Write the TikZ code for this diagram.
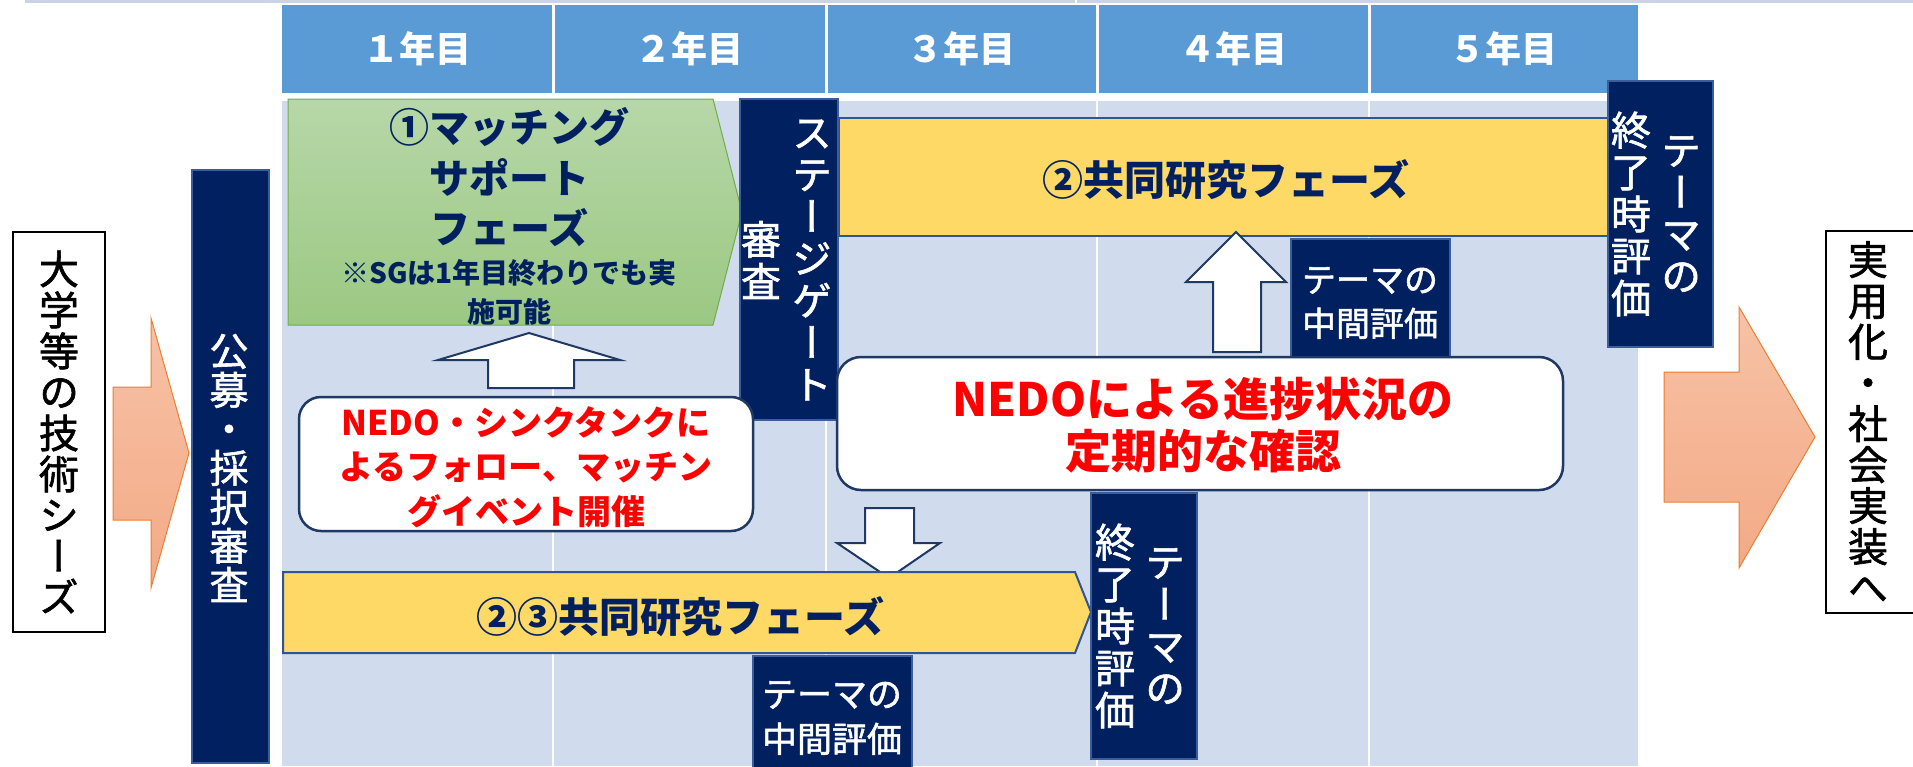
\documentclass[tikz,border=0pt]{standalone}
\usepackage{fontspec}
\newfontfamily\jp{Noto Sans CJK JP}
\newfontfamily\jpm[FakeBold=1.5]{Noto Sans CJK JP}
\newfontfamily\jpv[RawFeature=+vert,FakeBold=1.5]{Noto Sans CJK JP}
\definecolor{hdr}{HTML}{5B9BD5}
\definecolor{bodybg}{HTML}{D0DCEE}
\definecolor{navy}{HTML}{002060}
\definecolor{navyedge}{HTML}{3A5E9C}
\definecolor{outl}{HTML}{1F3864}
\definecolor{yel}{HTML}{FFD966}
\definecolor{yeledge}{HTML}{2F5597}
\definecolor{grnT}{HTML}{B7D7A8}
\definecolor{grnB}{HTML}{9BC882}
\definecolor{grnE}{HTML}{70AD47}
\definecolor{orT}{HTML}{F7C2A6}
\definecolor{orB}{HTML}{F3AA86}
\definecolor{orE}{HTML}{ED7D31}
\definecolor{topgray}{HTML}{CCD3E5}
\definecolor{redtxt}{HTML}{FF0000}
\begin{document}
\begin{tikzpicture}[x=1pt,y=-1pt,
  navybar/.style={fill=navy, draw=navyedge, line width=1.5pt},
  yelbar/.style={fill=yel, draw=yeledge, line width=2pt},
  blockarrow/.style={fill=white, draw=outl, line width=2pt, line join=miter},
  orarrow/.style={top color=orT, bottom color=orB, draw=orE, line width=1pt},
  roundbox/.style={fill=white, draw=outl, line width=2.5pt, rounded corners=24pt},
  vtxt/.style={text=white, font=\jpv\fontsize{40}{42}\selectfont, align=center, inner sep=0pt},
  vblack/.style={text=black, font=\jpv\fontsize{40}{41}\selectfont, align=center, inner sep=0pt},
  hdrtxt/.style={text=white, font=\jp\bfseries\fontsize{36}{40}\selectfont, inner sep=0pt},
  bigtxt/.style={text=navy, font=\jp\bfseries\fontsize{40}{48}\selectfont, inner sep=0pt},
  smalltxt/.style={text=navy, font=\jp\bfseries\fontsize{28}{34}\selectfont, inner sep=0pt},
  phasetxt/.style={text=navy, font=\jp\bfseries\fontsize{41}{48}\selectfont, inner sep=0pt},
  evaltxt/.style={text=white, align=center, inner sep=0pt},
  redtext/.style={text=redtxt, align=center, inner sep=0pt}]
\useasboundingbox (0,0) rectangle (1913,766);
% top gray rule
\fill[topgray] (25,0) rectangle (1913,3);
\fill[white] (1075,0) rectangle (1077,4);
% body background with column lines
\fill[bodybg] (282,101) rectangle (1638,766);
\foreach \x in {553,826,1097,1369} \fill[white] (\x-1,101) rectangle (\x+1,766);
% header
\fill[hdr] (282,5) rectangle (1638,93);
\foreach \x in {553,826,1097,1369} \fill[white] (\x-1.5,5) rectangle (\x+1.5,93);
\node[hdrtxt] (y1) at (417.5,49) {１年目};
\node[hdrtxt] (y2) at (689.5,49) {２年目};
\node[hdrtxt] (y3) at (961.5,49) {３年目};
\node[hdrtxt] (y4) at (1233,49) {４年目};
\node[hdrtxt] (y5) at (1503.5,49) {５年目};
% green matching phase
\draw[grnE, line width=1pt, top color=grnT, bottom color=grnB] (288,99) -- (713,99) -- (742,212) -- (713,325) -- (288,325) -- cycle;
\node[bigtxt] (m1) at (509,127) {①マッチング};
\node[bigtxt] (m2) at (509,177) {サポート};
\node[bigtxt] (m3) at (509,228) {フェーズ};
\node[smalltxt] (m4) at (509,273) {※SGは1年目終わりでも実};
\node[smalltxt] (m5) at (509,312) {施可能};
% top yellow phase bar
\draw[yelbar] (839,118) rectangle (1608,236);
\node[phasetxt] (p2) at (1226,180) {②共同研究フェーズ};
% stage gate bar
\draw[navybar] (740,99) rectangle (838,420);
\node[vtxt] (sg1) at (812,260) {ス\\テ\\ー\\ジ\\ゲ\\ー\\ト};
\node[vtxt] (sg2) at (761,260) {審\\査};
% top-right final evaluation bar
\draw[navybar] (1608,81) rectangle (1713,347);
\node[vtxt] (fe1) at (1681,214) {テ\\ー\\マ\\の};
\node[vtxt] (fe2) at (1631,214) {終\\了\\時\\評\\価};
% right up arrow
\draw[blockarrow] (1236,232) -- (1286,282) -- (1261,282) -- (1261,352) -- (1213,352) -- (1213,282) -- (1186,282) -- cycle;
% top mid evaluation box
\draw[navybar] (1291,239) rectangle (1450,358);
\node[evaltxt, font=\jpm\fontsize{34}{44}\selectfont] (me1) at (1370,303) {テーマの\\中間評価};
% NEDO big box
\draw[roundbox] (837,357) rectangle (1563,490);
\node[redtext, font=\jp\bfseries\fontsize{46}{52}\selectfont] (nedo) at (1203,425) {NEDOによる進捗状況の\\定期的な確認};
% down arrow
\draw[blockarrow] (865,508) -- (914,508) -- (914,543) -- (940,543) -- (889,578) -- (837,543) -- (865,543) -- cycle;
% bottom yellow phase pentagon
\draw[yelbar] (283,572) -- (1075,572) -- (1091,612) -- (1075,653) -- (283,653) -- cycle;
\node[phasetxt] (p23) at (680,617) {②③共同研究フェーズ};
% bottom mid evaluation box
\draw[navybar] (753,656) rectangle (912,785);
\node[evaltxt, font=\jpm\fontsize{35}{45}\selectfont] (me2) at (832,718) {テーマの\\中間評価};
% bottom final evaluation bar
\draw[navybar] (1091,493) rectangle (1197,759);
\node[vtxt] (fe3) at (1165,626) {テ\\ー\\マ\\の};
\node[vtxt] (fe4) at (1115,626) {終\\了\\時\\評\\価};
% application / selection bar
\draw[navybar] (192,170) rectangle (269,763);
\node[vtxt, font=\jpv\fontsize{39}{39}\selectfont] (kobo) at (229,468) {公\\募\\・\\採\\択\\審\\査};
% NEDO follow box
\draw[roundbox, rounded corners=22pt] (299,397) rectangle (753,531);
\node[redtext, font=\jp\bfseries\fontsize{34}{44.5}\selectfont] (follow) at (526,467) {NEDO・シンクタンクに\\よるフォロー、マッチン\\グイベント開催};
% left up arrow
\draw[blockarrow] (529,333) -- (620,360) -- (574,360) -- (574,388) -- (488,388) -- (488,360) -- (438,360) -- cycle;
% orange arrows
\draw[orarrow] (113,387) -- (151,387) -- (151,318) -- (189,453) -- (151,588) -- (151,520) -- (113,520) -- cycle;
\draw[orarrow] (1664,372) -- (1739,372) -- (1739,307) -- (1815,437) -- (1739,568) -- (1739,502) -- (1664,502) -- cycle;
% left and right boxes
\draw[black, line width=2pt, fill=white] (13,232) rectangle (105,632);
\node[vblack] (seeds) at (59,432) {大\\学\\等\\の\\技\\術\\シ\\ー\\ズ};
\draw[black, line width=2pt, fill=white] (1826,231) rectangle (1925,613);
\node[vblack] (impl) at (1868,422) {実\\用\\化\\・\\社\\会\\実\\装\\へ};
\end{tikzpicture}
\end{document}
